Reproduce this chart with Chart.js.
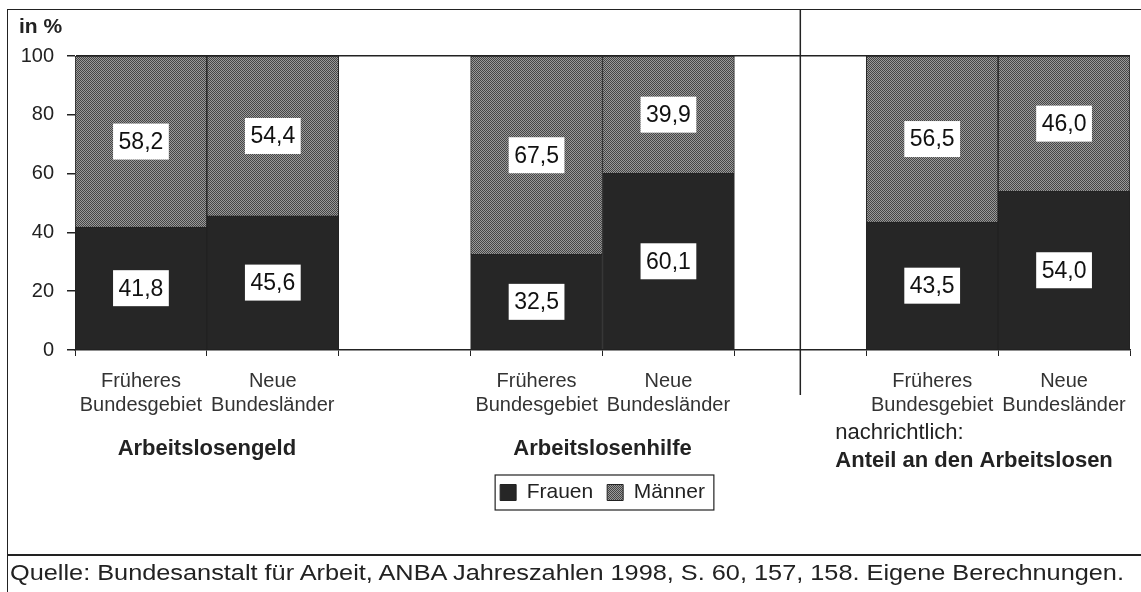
<!DOCTYPE html>
<html>
<head>
<meta charset="utf-8">
<script src="https://cdn.jsdelivr.net/npm/chart.js@4.4.1/dist/chart.umd.min.js"></script>
<style>
  body { margin: 0; background: #fff; font-family: "Liberation Sans", Arial, sans-serif; overflow: hidden; }
  #rahmen { position: absolute; left: 7px; top: 9px; width: 1134px; height: 600px;
            border-left: 1.5px solid #222; border-top: 1.5px solid #222; }
  #trenner { position: absolute; left: 7px; top: 554px; width: 1134px; border-top: 2px solid #222; }
  #quelle { position: absolute; left: 10px; top: 560px; font-size: 22px; color: #222; white-space: nowrap;
            transform: scaleX(1.15); transform-origin: left center; }
  #box { position: absolute; left: 8px; top: 10px; width: 1133px; height: 545px; }
</style>
</head>
<body>
<div id="rahmen"></div>
<div id="box"><canvas id="grafik"></canvas></div>
<div id="trenner"></div>
<div id="quelle">Quelle: Bundesanstalt für Arbeit, ANBA Jahreszahlen 1998, S. 60, 157, 158. Eigene Berechnungen.</div>
<script>
// Kategorien (leere Einträge = Lücken zwischen den Gruppen)
const kategorien = [
  ['Früheres', 'Bundesgebiet'], ['Neue', 'Bundesländer'], '',
  ['Früheres', 'Bundesgebiet'], ['Neue', 'Bundesländer'], '',
  ['Früheres', 'Bundesgebiet'], ['Neue', 'Bundesländer']
];
const frauen = [41.8, 45.6, null, 32.5, 60.1, null, 43.5, 54.0];
const maenner = [58.2, 54.4, null, 67.5, 39.9, null, 56.5, 46.0];
const yTicks = [0, 20, 40, 60, 80, 100];
const gruppenTitel = ['Arbeitslosengeld', 'Arbeitslosenhilfe', 'Anteil an den Arbeitslosen'];

const schrift = '"Liberation Sans", Arial, sans-serif';

// Rastermuster für Männer
function muster() {
  const c = document.createElement('canvas');
  c.width = 2; c.height = 2;
  const g = c.getContext('2d');
  g.fillStyle = '#9a9a9a'; g.fillRect(0, 0, 2, 2);
  g.fillStyle = '#454545'; g.fillRect(0, 0, 1, 1); g.fillRect(1, 1, 1, 1);
  return document.getElementById('grafik').getContext('2d').createPattern(c, 'repeat');
}

const beschriftung = {
  id: 'beschriftung',
  afterDatasetsDraw(chart) {
    const ctx = chart.ctx;
    ctx.save();
    ctx.font = '23px ' + schrift;
    ctx.textAlign = 'center';
    ctx.textBaseline = 'middle';
    chart.data.datasets.forEach((ds, i) => {
      chart.getDatasetMeta(i).data.forEach((bar, j) => {
        const v = ds.data[j];
        if (v == null) return;
        const txt = v.toFixed(1).replace('.', ',');
        const w = ctx.measureText(txt).width + 11;
        const cy = (bar.y + bar.base) / 2;
        ctx.fillStyle = '#fff';
        ctx.fillRect(bar.x - w / 2, cy - 18, w, 36);
        ctx.fillStyle = '#111';
        ctx.fillText(txt, bar.x, cy + 1);
      });
    });
    ctx.restore();
  },
  afterDraw(chart) {
    const ctx = chart.ctx;
    const x = chart.scales.x;
    const area = chart.chartArea;
    ctx.save();
    // Trennlinie
    const tx = x.getPixelForValue(5);
    ctx.strokeStyle = '#222';
    ctx.lineWidth = 1.5;
    ctx.beginPath();
    ctx.moveTo(tx, 0);
    ctx.lineTo(tx, area.bottom + 45);
    ctx.stroke();
    // in %
    ctx.fillStyle = '#222';
    ctx.font = 'bold 21px ' + schrift;
    ctx.textBaseline = 'middle';
    ctx.textAlign = 'left';
    ctx.fillText('in %', 11, 17);
    // Gruppentitel
    ctx.font = 'bold 22px ' + schrift;
    ctx.textAlign = 'center';
    const m1 = (x.getPixelForValue(0) + x.getPixelForValue(1)) / 2;
    const m2 = (x.getPixelForValue(3) + x.getPixelForValue(4)) / 2;
    ctx.fillText(gruppenTitel[0], m1, area.bottom + 99);
    ctx.fillText(gruppenTitel[1], m2, area.bottom + 99);
    ctx.textAlign = 'left';
    ctx.font = '22px ' + schrift;
    ctx.fillText('nachrichtlich:', tx + 35, area.bottom + 83);
    ctx.font = 'bold 22px ' + schrift;
    ctx.fillText(gruppenTitel[2], tx + 35, area.bottom + 111);
    // Rahmen um Legende
    const hb = chart.legend.legendHitBoxes;
    if (hb && hb.length) {
      const l = hb[0].left - 5, r = hb[hb.length - 1].left + hb[hb.length - 1].width + 9;
      const t = hb[0].top - 7, b = hb[0].top + hb[0].height + 7;
      ctx.lineWidth = 1.2;
      ctx.strokeRect(l, t, r - l, b - t);
    }
    ctx.restore();
  }
};

new Chart(document.getElementById('grafik'), {
  type: 'bar',
  data: {
    labels: kategorien,
    datasets: [
      { label: 'Frauen', data: frauen, backgroundColor: '#262626', borderColor: '#222', borderWidth: 1 },
      { label: 'Männer', data: maenner, backgroundColor: muster(), borderColor: '#222', borderWidth: 1 }
    ]
  },
  options: {
    responsive: true,
    maintainAspectRatio: false,
    animation: false,
    layout: { padding: { top: 46, right: 11, bottom: 42, left: 0 } },
    datasets: { bar: { barPercentage: 1, categoryPercentage: 1 } },
    plugins: {
      tooltip: { enabled: false },
      legend: {
        position: 'bottom',
        fullSize: false,
        labels: {
          color: '#222',
          font: { family: schrift, size: 21 },
          boxWidth: 16,
          boxHeight: 16,
          padding: 14
        }
      }
    },
    scales: {
      x: {
        stacked: true,
        afterFit(s) { s.height = 118; },
        grid: { offset: true, drawOnChartArea: false, tickLength: 6, color: '#222', tickColor: '#222' },
        border: { display: true, color: '#222', width: 1.5 },
        ticks: { autoSkip: false, maxRotation: 0, padding: 13, color: '#333',
                 font: { family: schrift, size: 20 } }
      },
      y: {
        stacked: true,
        min: 0,
        max: 100,
        afterFit(s) { s.width = 67; },
        afterBuildTicks(s) { s.ticks = yTicks.map(v => ({ value: v })); },
        grid: {
          tickLength: 8,
          color: c => c.tick && c.tick.value === 100 ? '#222' : 'rgba(0,0,0,0)',
          tickColor: '#222',
          lineWidth: 1.5
        },
        border: { display: true, color: '#222' },
        ticks: { padding: 13, color: '#222', font: { family: schrift, size: 20 } }
      }
    }
  },
  plugins: [beschriftung]
});
</script>
</body>
</html>
